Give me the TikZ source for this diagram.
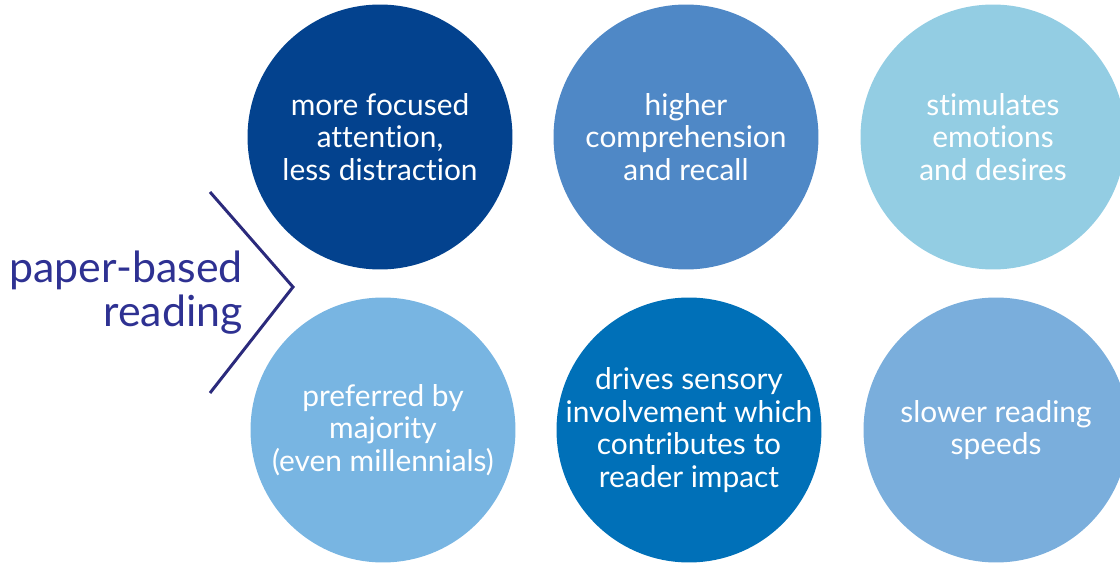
\documentclass[tikz,border=0pt]{standalone}
\usepackage{fontspec}
\setmainfont{Lato}[Ligatures={NoCommon}]
\usepackage{tikz}
\definecolor{dotnavy}{HTML}{03428E}
\definecolor{dotmid}{HTML}{4F88C6}
\definecolor{dotsky}{HTML}{93CDE3}
\definecolor{dotpale}{HTML}{78B5E2}
\definecolor{dotdeep}{HTML}{0070B8}
\definecolor{dotsoft}{HTML}{7AAEDC}
\definecolor{labelink}{HTML}{2E3192}
\definecolor{chevink}{HTML}{2B2A7C}

\begin{document}
\begin{tikzpicture}[x=0.02cm,y=-0.02cm,
  dot/.style={circle,minimum size=5.3cm,inner sep=0pt,fill=#1},
  dottext/.style={text=white,align=center,inner sep=0pt,
    font=\fontsize{17}{18.5}\selectfont}]
  \useasboundingbox (0,0) rectangle (1120,563);
  \node[dot=dotnavy,label={[dottext]center:more focused\\attention,\\less distraction}] (focus) at (380,137) {};
  \node[dot=dotmid,label={[dottext]center:higher\\comprehension\\and recall}] (recall) at (686,137) {};
  \node[dot=dotsky,label={[dottext]center:stimulates\\emotions\\and desires}] (emotion) at (993,137) {};
  \node[dot=dotpale,label={[dottext]center:preferred by\\majority\\(even millennials)}] (prefer) at (383,430) {};
  \node[dot=dotdeep,label={[dottext]center:drives sensory\\involvement which\\contributes to\\reader impact}] (sense) at (689,430) {};
  \node[dot=dotsoft,label={[dottext]center:slower reading\\speeds}] (speed) at (996,430) {};
  \node[anchor=east,align=right,text=labelink,inner sep=0pt,
    font=\fontsize{24.4}{25}\selectfont] (paper) at (243,293) {paper-based\\reading};
  \coordinate (chevtop) at (210,192);
  \coordinate (chevtip) at (293,287);
  \coordinate (chevbot) at (210,393);
  \draw[chevink,line width=1.7pt] (chevtop) -- (chevtip) -- (chevbot);
\end{tikzpicture}
\end{document}
